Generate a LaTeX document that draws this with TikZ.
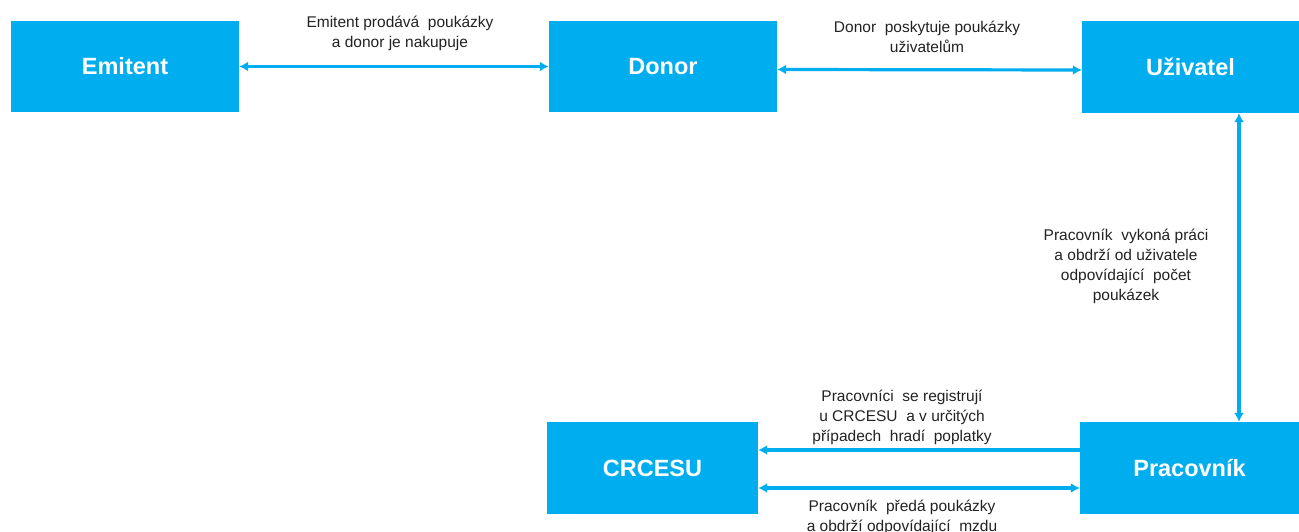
\documentclass[tikz,border=0pt]{standalone}
\usepackage{fontspec}
\setmainfont{Liberation Sans}
\usetikzlibrary{arrows.meta}
\definecolor{boxblue}{HTML}{00ADEE}
\definecolor{txt}{HTML}{222222}
\tikzset{
  box/.style={fill=boxblue, draw=none, text=white, inner sep=0pt,
    font=\fontsize{23.5}{26}\selectfont\bfseries},
  conn/.style={draw=boxblue, line width=3.2pt, {Latex[length=9pt,width=10pt]}-{Latex[length=9pt,width=10pt]}},
  conl/.style={draw=boxblue, line width=3.2pt, {Latex[length=9pt,width=10pt]}-},
  lbl/.style={text=txt, align=center, inner sep=0pt, font=\fontsize{15.5}{20}\selectfont}
}
\begin{document}
\begin{tikzpicture}[x=1pt,y=-1pt]
\useasboundingbox (0,0) rectangle (1299,532);
\node[box, minimum width=228pt, minimum height=91pt] (emitent) at (125,66.5) {Emitent};
\node[box, minimum width=228pt, minimum height=91pt] (donor) at (663,66.5) {Donor};
\node[box, minimum width=217pt, minimum height=92pt] (uzivatel) at (1190.5,67) {Uživatel};
\node[box, minimum width=211pt, minimum height=92pt] (crcesu) at (652.5,468) {CRCESU};
\node[box, minimum width=219pt, minimum height=92pt] (pracovnik) at (1189.5,468) {Pracovník};

\draw[conn] (emitent.east) -- (donor.west);
\draw[conn] ([yshift=-3pt]donor.east) -- ([yshift=-3pt]uzivatel.west);
\draw[conn] ([xshift=48.5pt]uzivatel.south) -- ([xshift=49.5pt]pracovnik.north);
\draw[conl] ([yshift=18pt]crcesu.east) -- ([yshift=18pt]pracovnik.west);
\draw[conn] ([yshift=-20pt]crcesu.east) -- ([yshift=-20pt]pracovnik.west);

\node[lbl] (l1) at (400,33) {Emitent prodává \ poukázky\\a donor je nakupuje};
\node[lbl] (l2) at (927,36.5) {Donor \ poskytuje poukázky\\uživatelům};
\node[lbl] (l3) at (1126,266.5) {Pracovník \ vykoná práci\\a obdrží od uživatele\\odpovídající \ počet\\poukázek};
\node[lbl] (l4) at (902,417) {Pracovníci \ se registrují\\u CRCESU \ a v určitých\\případech \ hradí \ poplatky};
\node[lbl] (l5) at (902,517.5) {Pracovník \ předá poukázky\\a obdrží odpovídající \ mzdu};
\end{tikzpicture}
\end{document}
